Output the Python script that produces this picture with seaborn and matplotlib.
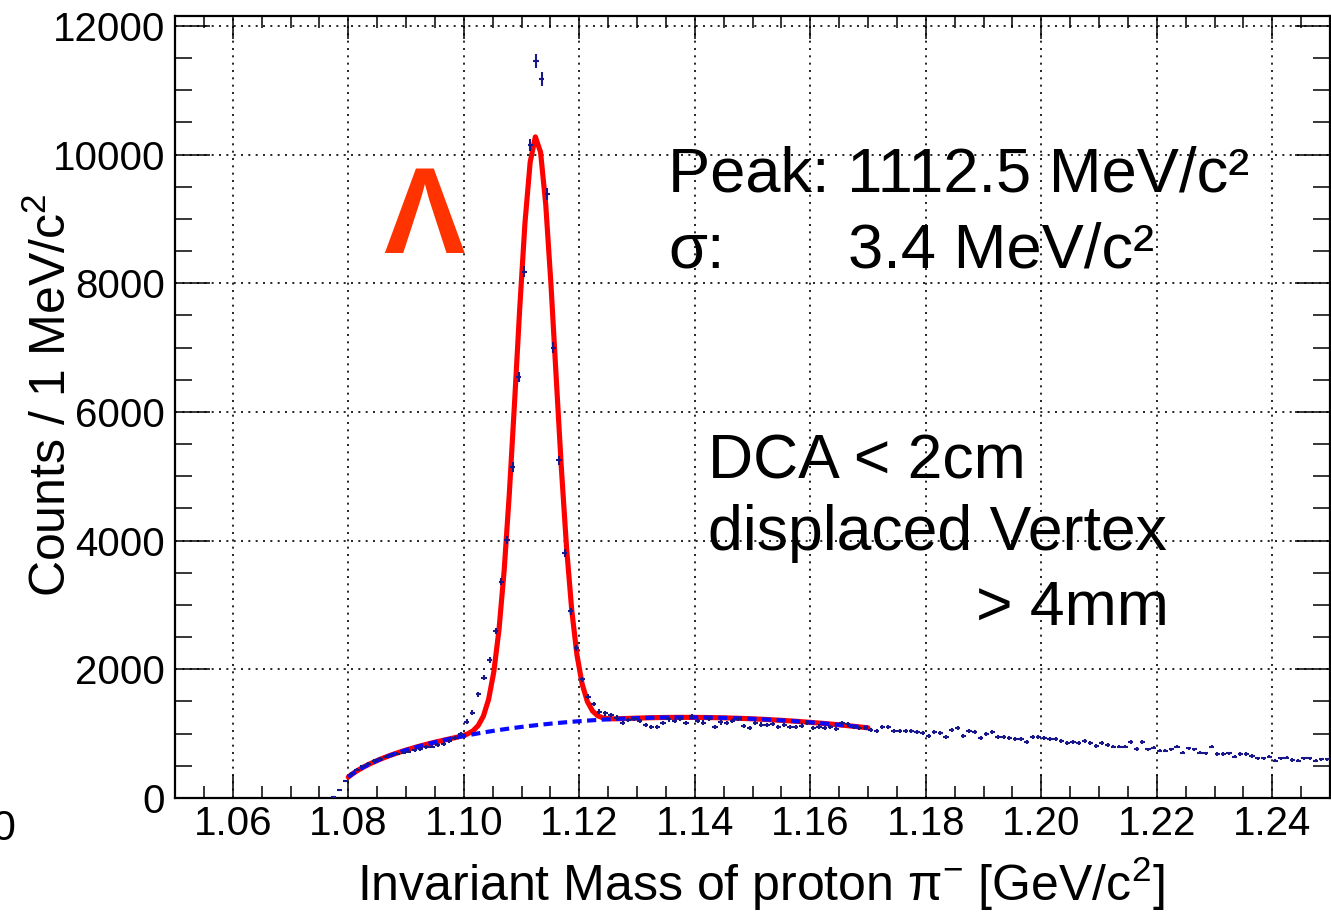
import numpy as np
import pandas as pd
import matplotlib
matplotlib.use("Agg")
import matplotlib.pyplot as plt
from matplotlib.ticker import MultipleLocator, FormatStrFormatter
import seaborn as sns

# ---------------------------------------------------------------------------
# Histogram of the p pi- invariant mass, 1 MeV/c^2 bins (GeV/c^2)
# ---------------------------------------------------------------------------
BIN_WIDTH = 0.001
FIRST_BIN_CENTER = 1.0775

counts = [
    # 1.0775 - 1.0995
    10, 125, 270, 380, 440, 490, 530, 580, 610, 640, 665, 690, 705, 720,
    740, 760, 790, 800, 825, 845, 880, 930, 990,
    # 1.1005 - 1.1245 (Lambda peak)
    1187, 1326, 1611, 1870, 2145, 2596, 3363, 4010, 5145, 6545, 8181,
    10150, 11461, 11172, 9389, 7000, 5250, 3810, 2900, 2327, 1845, 1575,
    1461, 1342, 1316,
    # 1.1255 - 1.1825
    1290, 1250, 1161, 1210, 1230, 1200, 1130, 1109, 1109, 1161, 1223,
    1200, 1230, 1161, 1270, 1200, 1171, 1230, 1109, 1175, 1161, 1200,
    1230, 1120, 1090, 1161, 1140, 1130, 1150, 1109, 1130, 1109, 1109,
    1125, 1171, 1090, 1110, 1083, 1100, 1070, 1161, 1145, 1109, 1083,
    1083, 1062, 1041, 1109, 1109, 1047, 1047, 1047, 1047, 1030, 1015,
    964, 1030, 1015,
    # 1.1835 - 1.2495
    953, 1057, 1083, 964, 1047, 1021, 928, 995, 1021, 953,
    943, 928, 917, 917, 865, 953, 953, 928, 917, 912,
    891, 860, 876, 850, 886, 860, 808, 860, 829, 798,
    798, 798, 865, 762, 865, 757, 782, 736, 736, 757,
    798, 705, 772, 757, 705, 694, 798, 684, 684, 694,
    643, 684, 684, 653, 617, 617, 643, 580, 617, 627,
    591, 580, 617, 617, 580, 601, 601,
]

# Fit model: Gaussian signal on a threshold background
PEAK_MASS = 1.1125          # GeV/c^2  (1112.5 MeV/c^2)
PEAK_SIGMA = 0.0034         # GeV/c^2  (3.4 MeV/c^2)
PEAK_AMPLITUDE = 9150.0
THRESHOLD = 0.938272 + 0.139570   # m_p + m_pi
BKG_COEFFS = [7047.0, -22255.0, -165300.0]   # sqrt(dm) * (c0 + c1 dm + c2 dm^2)
FIT_RANGE = (1.08, 1.17)

x_ticks_major = [1.06, 1.08, 1.10, 1.12, 1.14, 1.16, 1.18, 1.20, 1.22, 1.24]
y_ticks_major = [0, 2000, 4000, 6000, 8000, 10000, 12000]

# ---------------------------------------------------------------------------
counts = np.asarray(counts, dtype=float)
mass = FIRST_BIN_CENTER + BIN_WIDTH * np.arange(len(counts))
hist = pd.DataFrame({"mass": mass, "counts": counts, "err": np.sqrt(counts)})


def background(m):
    dm = np.clip(m - THRESHOLD, 0.0, None)
    c0, c1, c2 = BKG_COEFFS
    return np.sqrt(dm) * (c0 + c1 * dm + c2 * dm ** 2)


def signal(m):
    return PEAK_AMPLITUDE * np.exp(-0.5 * ((m - PEAK_MASS) / PEAK_SIGMA) ** 2)


m_fit = np.linspace(FIT_RANGE[0], FIT_RANGE[1], 101)
fit = pd.DataFrame({"mass": m_fit,
                    "total": signal(m_fit) + background(m_fit),
                    "bkg": background(m_fit)})

# ---------------------------------------------------------------------------
sns.set_theme(style="ticks")
plt.rcParams["font.family"] = ["Liberation Sans", "DejaVu Sans"]
plt.rcParams["mathtext.fontset"] = "custom"
plt.rcParams["mathtext.rm"] = "Liberation Sans"
plt.rcParams["mathtext.it"] = "Liberation Sans:italic"
plt.rcParams["mathtext.bf"] = "Liberation Sans:bold"

W, H = 1331, 916
fig = plt.figure(figsize=(W / 100, H / 100), dpi=100)
fig.patch.set_facecolor("white")

L, R, T, B = 175, 1330, 16, 798
ax = fig.add_axes([L / W, 1 - B / H, (R - L) / W, (B - T) / H])
ax.set_facecolor("white")

# fitted curves
sns.lineplot(data=fit, x="mass", y="total", ax=ax, color="#ff0000",
             linewidth=3.7, estimator=None, sort=True, zorder=3)
sns.lineplot(data=fit, x="mass", y="bkg", ax=ax, color="#0a0aff",
             linewidth=3.0, estimator=None, sort=True, zorder=3.5,
             linestyle=(0, (2.2, 1.3)))

# data points with statistical errors
ax.errorbar(hist["mass"], hist["counts"], yerr=hist["err"], xerr=0.00045,
            fmt="none", ecolor="#18188c", elinewidth=1.5, capsize=0, zorder=4)

ax.set_xlim(1.05, 1.25)
ax.set_ylim(0, 12155)
ax.set_xlabel("")
ax.set_ylabel("")

ax.set_xticks(x_ticks_major)
ax.set_yticks(y_ticks_major)
ax.xaxis.set_minor_locator(MultipleLocator(0.005))
ax.yaxis.set_minor_locator(MultipleLocator(500))
ax.xaxis.set_major_formatter(FormatStrFormatter("%.2f"))
ax.yaxis.set_major_formatter(FormatStrFormatter("%d"))

ax.tick_params(which="both", direction="in", top=True, right=True,
               width=1.1, color="black", labelcolor="black")
ax.tick_params(axis="x", which="major", length=16.5, labelsize=29, pad=5)
ax.tick_params(axis="x", which="minor", length=8.3)
ax.tick_params(axis="y", which="major", length=25, labelsize=29, pad=7)
ax.tick_params(axis="y", which="minor", length=12.5)

for s in ax.spines.values():
    s.set_linewidth(1.6)
    s.set_color("black")
    s.set_visible(True)

ax.grid(True, which="major", color="black", linestyle=(0, (1.2, 3.2)),
        linewidth=1.2)
ax.set_axisbelow(True)


def fx(x):
    return x / W


def fy(y):
    return 1 - y / H


# axis titles
fig.text(fx(52), fy(395), "Counts / 1 MeV/c$^{2}$", rotation=90,
         ha="center", va="center", fontsize=36, color="black")
fig.text(fx(761), fy(901), "Invariant Mass of proton π$^{-}$ [GeV/c$^{2}$]",
         ha="center", va="baseline", fontsize=36, color="black")

# fragment of a neighbouring label at the left edge
fig.text(fx(15), fy(840), "0", ha="right", va="baseline", fontsize=31,
         color="black")

# particle symbol
fig.text(fx(424), fy(253), "Λ", ha="center", va="baseline", fontsize=88,
         fontweight="bold", color="#ff3300")

# fit results
fig.text(fx(668), fy(192), "Peak: 1112.5 MeV/c²", ha="left", va="baseline",
         fontsize=45.5, color="black")
fig.text(fx(668), fy(268), "σ:", ha="left", va="baseline",
         fontsize=45.5, color="black")
fig.text(fx(848), fy(268), "3.4 MeV/c²", ha="left", va="baseline",
         fontsize=45.5, color="black")

# selection cuts
fig.text(fx(708), fy(478), "DCA < 2cm", ha="left", va="baseline",
         fontsize=45, color="black")
fig.text(fx(708), fy(550), "displaced Vertex", ha="left", va="baseline",
         fontsize=45, color="black")
fig.text(fx(976), fy(625), "> 4mm", ha="left", va="baseline",
         fontsize=45, color="black")

fig.savefig("out.png", dpi=100, facecolor="white")
